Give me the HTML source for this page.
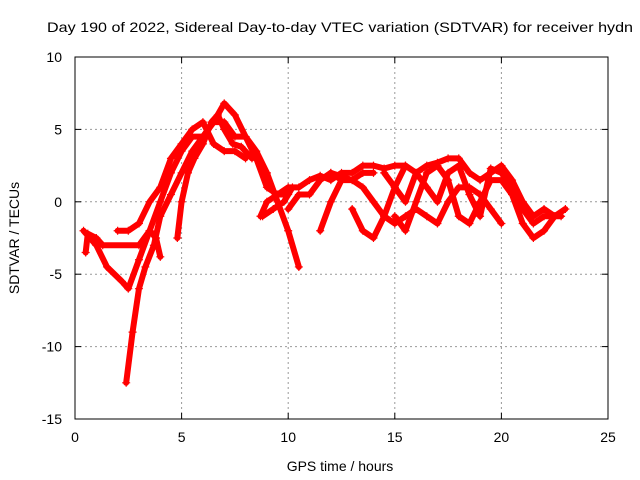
<!DOCTYPE html>
<html><head><meta charset="utf-8"><style>
body{margin:0;background:#fff}
svg{display:block;font-family:"Liberation Sans",sans-serif}
</style></head><body>
<svg id="chart" width="640" height="480">
<text x="47" y="32" font-size="14" textLength="586" lengthAdjust="spacingAndGlyphs">Day 190 of 2022, Sidereal Day-to-day VTEC variation (SDTVAR) for receiver hydn</text>
<text x="340" y="471" font-size="14" text-anchor="middle">GPS time / hours</text>
<text transform="translate(19,238) rotate(-90)" font-size="14" text-anchor="middle">SDTVAR / TECUs</text>
<g id="grid"></g><g id="ticks"></g><g id="marks"></g>
<rect x="75" y="57" width="533" height="362" fill="none" stroke="#000"/>
</svg>
<script>
const xTicks=[0,5,10,15,20,25];
const yTicks=[-15,-10,-5,0,5,10];
const trackA=[[0.4,-2],[1,-3],[1.5,-4.5],[2.2,-5.5],[2.5,-6],[3,-4],[3.5,-2],[4,0],[4.5,2],[5,3.5],[5.5,4.5],[6,4.5],[6.5,5.5],[7,6.8],[7.5,6],[8,4.5],[8.5,3],[9,1],[9.5,0.5],[10,0.5]];
const trackB=[[2.4,-12.5],[2.7,-9],[3,-6],[3.3,-4.5],[3.7,-3],[4,-1],[4.5,0.5],[5,2],[5.5,3.5],[6,4.5],[6.5,5.5],[7,5.5],[7.5,4.5],[8,4.5],[8.5,3.5],[9,2],[9.5,0],[10,-2],[10.5,-4.5]];
const trackC=[[2,-2],[2.5,-2],[3,-1.5],[3.5,0],[4,1],[4.5,3],[5,4],[5.5,5],[6,5.5],[6.5,4],[7,3.5],[7.5,3.5],[8,3]];
const trackD=[[4.8,-2.5],[5,0],[5.3,2],[5.6,3],[6,4],[6.4,5.5],[6.7,6],[7,5],[7.4,4],[7.8,3.8],[8.3,3]];
const trackE=[[0.5,-3.5],[0.6,-2.2],[1,-2.5],[1.3,-3],[3,-3],[3.5,-2],[3.8,-2.5],[4,-3.8]];
const trackF=[[8.7,-1],[9,0],[9.5,0.5],[10,1],[10.5,1],[11,1.5],[11.5,1.8],[12,1.5],[12.5,2],[13,2],[13.5,2.5],[14,2.5],[14.5,2.3],[15,2.5],[15.5,2.5],[16,2],[16.5,2.5],[17,2.7],[17.5,3],[18,3],[18.5,2],[19,1.5],[19.5,2],[20,2.5],[20.5,1.5],[21,0],[21.5,-1],[22,-0.5],[22.5,-1],[23,-0.5]];
const trackG=[[11.5,-2],[12,0],[12.5,1.5]];
const trackH=[[13,-0.5],[13.5,-2],[14,-2.5],[14.5,-1],[15,1],[15.5,2.5]];
const trackI=[[15,-1],[15.5,-2],[16,0],[16.5,2],[17,2.5],[17.5,1.5],[18,-1],[18.5,-1.5],[19,0],[19.5,1.5],[20,1.5],[20.5,0.5],[21,-1.5],[21.5,-2.5],[22,-2],[22.5,-1]];
const trackJ=[[12,2],[13,1.5],[13.5,1],[14,0],[14.5,-1],[15,-1.5],[15.5,-1],[16,-0.5],[16.5,-1],[17,-1.5],[17.5,0],[18,1],[18.5,1],[19,0.5],[19.5,-0.5],[20,-1.5]];
const trackK=[[14.5,2],[15,1],[15.5,0],[16,2],[16.5,1],[17,0],[17.5,2],[18,2.5],[18.5,0.5],[19,-1],[19.5,2.3],[20,2],[20.5,1],[21,-0.5],[21.5,-1.5],[22,-1],[22.8,-1]];
const trackL=[[10,-0.5],[10.5,0.5],[11,0.5],[11.5,1.5],[12,2],[12.5,1.5],[13,1.5],[13.5,2],[14,2]];
const trackM=[[8.8,-1],[9.3,-0.5],[9.8,0],[10.2,1]];
const tracks=[trackA,trackB,trackC,trackD,trackE,trackF,trackG,trackH,trackI,trackJ,trackK,trackL,trackM];
const X=t=>75+t*533/25, Y=v=>419-(v+15)*362/25;
const NS="http://www.w3.org/2000/svg";
const grid=document.getElementById('grid'),ticks=document.getElementById('ticks'),marks=document.getElementById('marks');
function mk(tag,attrs,parent){const e=document.createElementNS(NS,tag);for(const k in attrs)e.setAttribute(k,attrs[k]);parent.appendChild(e);return e;}
xTicks.forEach(t=>{
  if(t>0&&t<25){const g=mk('line',{x1:X(t),x2:X(t),y1:57,y2:419,stroke:'#999','stroke-dasharray':'2,3'},grid);
  
  }
  mk('line',{x1:X(t),x2:X(t),y1:419,y2:413,stroke:'#000'},ticks);
  mk('line',{x1:X(t),x2:X(t),y1:57,y2:63,stroke:'#000'},ticks);
  const l=mk('text',{x:X(t),y:442,'font-size':14,'text-anchor':'middle'},ticks);l.textContent=t;
  
  
});
yTicks.forEach(v=>{
  if(v>-15&&v<10){const g=mk('line',{x1:75,x2:608,y1:Y(v),y2:Y(v),stroke:'#999','stroke-dasharray':'2,3'},grid);
  
  }
  mk('line',{x1:75,x2:81,y1:Y(v),y2:Y(v),stroke:'#000'},ticks);
  mk('line',{x1:608,x2:602,y1:Y(v),y2:Y(v),stroke:'#000'},ticks);
  const l=mk('text',{x:62,y:Y(v)+5,'font-size':14,'text-anchor':'end'},ticks);l.textContent=v;
  
  
});
tracks.forEach((tr,i)=>{
  const p=mk('polyline',{points:tr.map(d=>X(d[0])+','+Y(d[1])).join(' '),fill:'none',stroke:'#f00','stroke-width':6,'stroke-linejoin':'round','stroke-linecap':'round'},marks);
  
  
  tr.forEach(d=>{
    const m=mk('path',{d:`M${X(d[0])-4},${Y(d[1])}h8M${X(d[0])},${Y(d[1])-4}v8`,stroke:'#f00','stroke-width':1.2},marks);
    
    
  });
});
</script>
</body></html>
